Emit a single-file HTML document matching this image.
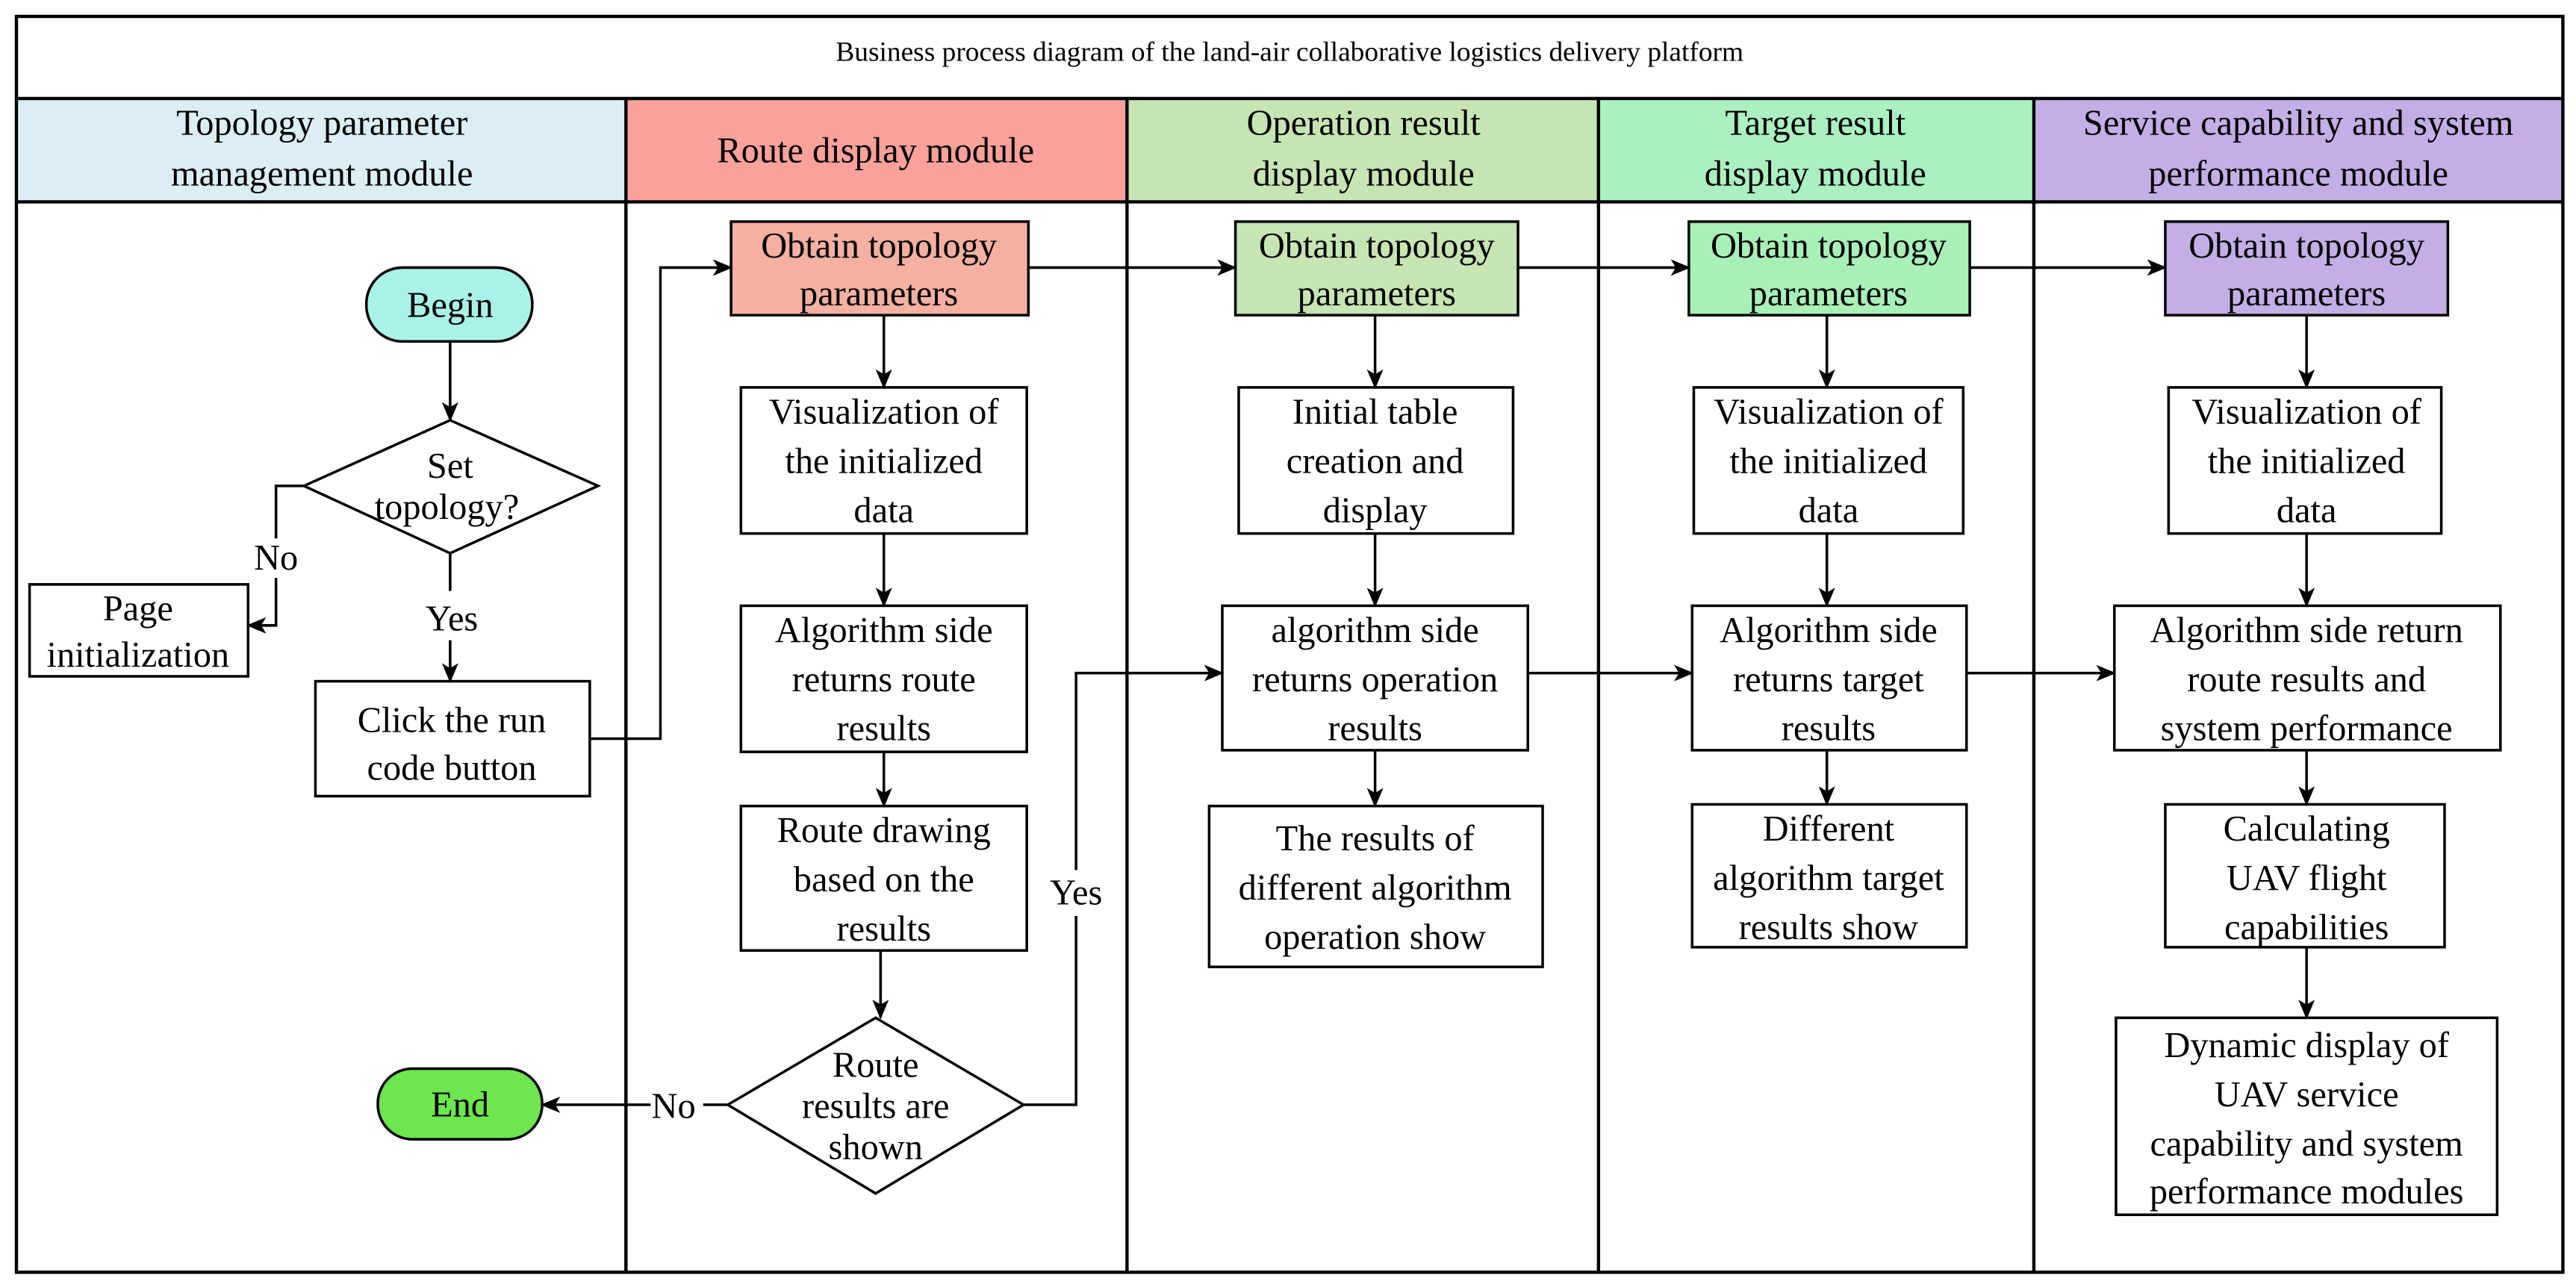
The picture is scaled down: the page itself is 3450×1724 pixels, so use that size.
<!DOCTYPE html>
<html><head><meta charset="utf-8"><style>
html,body{margin:0;padding:0;background:#fff;}
svg{display:block;}
svg text{font-family:"Liberation Serif","Times New Roman",serif !important;fill:#000;text-anchor:middle;}
</style></head><body>
<svg width="3450" height="1724" viewBox="0 0 1568 784" preserveAspectRatio="none" xmlns="http://www.w3.org/2000/svg" font-family="Liberation Serif, serif">
<defs>
<marker id="a" markerWidth="12" markerHeight="10" refX="11" refY="5" orient="auto" markerUnits="userSpaceOnUse">
<path d="M0,0 L12,5 L0,10 L3,5 Z" fill="#000"/></marker>
</defs>
<rect x="10" y="60" width="371" height="63" fill="#dbeef3"/>
<rect x="381" y="60" width="305" height="63" fill="#f9a19a"/>
<rect x="686" y="60" width="287" height="63" fill="#c6e5b3"/>
<rect x="973" y="60" width="265" height="63" fill="#aaf0c0"/>
<rect x="1238" y="60" width="322" height="63" fill="#c3aee6"/>
<g stroke="#000" stroke-width="2" fill="none">
<rect x="10" y="10" width="1550" height="765"/>
<line x1="10" y1="60" x2="1560" y2="60"/>
<line x1="10" y1="123" x2="1560" y2="123"/>
<line x1="381" y1="60" x2="381" y2="775"/>
<line x1="686" y1="60" x2="686" y2="775"/>
<line x1="973" y1="60" x2="973" y2="775"/>
<line x1="1238" y1="60" x2="1238" y2="775"/>
</g>
<text x="785" y="37" font-size="17">Business process diagram of the land-air collaborative logistics delivery platform</text>
<g font-size="22">
<text x="196" y="82">Topology parameter</text><text x="196" y="113">management module</text>
<text x="533" y="99">Route display module</text>
<text x="830" y="82">Operation result</text><text x="830" y="113">display module</text>
<text x="1105" y="82">Target result</text><text x="1105" y="113">display module</text>
<text x="1399" y="82">Service capability and system</text><text x="1399" y="113">performance module</text>
</g>
<g stroke="#000" stroke-width="1.6">
<rect x="223" y="163" width="101" height="45" rx="22" fill="#aaf2e8"/>
<polygon points="274,256 364,296 274,337 185,296" fill="#fff"/>
<rect x="18" y="356" width="133" height="56" fill="#fff"/>
<rect x="192" y="415" width="167" height="70" fill="#fff"/>
<rect x="230" y="651" width="100" height="43" rx="21" fill="#6de64f"/>
<rect x="445" y="135" width="181" height="57" fill="#f4b0a0"/>
<rect x="451" y="236" width="174" height="89" fill="#fff"/>
<rect x="451" y="369" width="174" height="89" fill="#fff"/>
<rect x="451" y="491" width="174" height="88" fill="#fff"/>
<polygon points="533,620 623,673 533,727 443,673" fill="#fff"/>
<rect x="752" y="135" width="172" height="57" fill="#c6e5b3"/>
<rect x="754" y="236" width="167" height="89" fill="#fff"/>
<rect x="744" y="369" width="186" height="88" fill="#fff"/>
<rect x="736" y="491" width="203" height="98" fill="#fff"/>
<rect x="1028" y="135" width="171" height="57" fill="#a8f0b8"/>
<rect x="1031" y="236" width="164" height="89" fill="#fff"/>
<rect x="1030" y="369" width="167" height="88" fill="#fff"/>
<rect x="1030" y="490" width="167" height="87" fill="#fff"/>
<rect x="1318" y="135" width="172" height="57" fill="#c3aee6"/>
<rect x="1320" y="236" width="166" height="89" fill="#fff"/>
<rect x="1287" y="369" width="235" height="88" fill="#fff"/>
<rect x="1318" y="490" width="170" height="87" fill="#fff"/>
<rect x="1288" y="620" width="232" height="120" fill="#fff"/>
</g>
<g stroke="#000" stroke-width="1.6" fill="none" marker-end="url(#a)">
<path d="M274,208 V256"/>
<path d="M274,337 V360 M274,390 V415"/>
<path d="M185,296 H168 V328 M168,352 V381 H151"/>
<path d="M359,450 H402 V163 H445"/>
<path d="M538,192 V236"/><path d="M538,325 V369"/><path d="M538,458 V491"/><path d="M536,579 V620"/>
<path d="M443,673 H428 M396,673 H330"/>
<path d="M623,673 H655 V558 M655,530 V410 H744"/>
<path d="M626,163 H752"/><path d="M924,163 H1028"/><path d="M1199,163 H1318"/>
<path d="M837,192 V236"/><path d="M837,325 V369"/><path d="M837,457 V491"/>
<path d="M930,410 H1030"/><path d="M1197,410 H1287"/>
<path d="M1112,192 V236"/><path d="M1112,325 V369"/><path d="M1112,457 V490"/>
<path d="M1404,192 V236"/><path d="M1404,325 V369"/><path d="M1404,457 V490"/><path d="M1404,577 V620"/>
</g>
<g font-size="22">
<text x="274" y="193">Begin</text>
<text x="274" y="291">Set</text><text x="272" y="316">topology?</text>
<text x="168" y="347">No</text>
<text x="275" y="384">Yes</text>
<text x="84" y="378">Page</text><text x="84" y="406">initialization</text>
<text x="275" y="446">Click the run</text><text x="275" y="475">code button</text>
<text x="280" y="680">End</text>
<text x="410" y="681">No</text>
<text x="655" y="551">Yes</text>
<text x="535" y="157">Obtain topology</text><text x="535" y="186">parameters</text>
<text x="538" y="258">Visualization of</text><text x="538" y="288">the initialized</text><text x="538" y="318">data</text>
<text x="538" y="391">Algorithm side</text><text x="538" y="421">returns route</text><text x="538" y="451">results</text>
<text x="538" y="513">Route drawing</text><text x="538" y="543">based on the</text><text x="538" y="573">results</text>
<text x="533" y="656">Route</text><text x="533" y="681">results are</text><text x="533" y="706">shown</text>
<text x="838" y="157">Obtain topology</text><text x="838" y="186">parameters</text>
<text x="837" y="258">Initial table</text><text x="837" y="288">creation and</text><text x="837" y="318">display</text>
<text x="837" y="391">algorithm side</text><text x="837" y="421">returns operation</text><text x="837" y="451">results</text>
<text x="837" y="518">The results of</text><text x="837" y="548">different algorithm</text><text x="837" y="578">operation show</text>
<text x="1113" y="157">Obtain topology</text><text x="1113" y="186">parameters</text>
<text x="1113" y="258">Visualization of</text><text x="1113" y="288">the initialized</text><text x="1113" y="318">data</text>
<text x="1113" y="391">Algorithm side</text><text x="1113" y="421">returns target</text><text x="1113" y="451">results</text>
<text x="1113" y="512">Different</text><text x="1113" y="542">algorithm target</text><text x="1113" y="572">results show</text>
<text x="1404" y="157">Obtain topology</text><text x="1404" y="186">parameters</text>
<text x="1404" y="258">Visualization of</text><text x="1404" y="288">the initialized</text><text x="1404" y="318">data</text>
<text x="1404" y="391">Algorithm side return</text><text x="1404" y="421">route results and</text><text x="1404" y="451">system performance</text>
<text x="1404" y="512">Calculating</text><text x="1404" y="542">UAV flight</text><text x="1404" y="572">capabilities</text>
<text x="1404" y="644">Dynamic display of</text><text x="1404" y="674">UAV service</text><text x="1404" y="704">capability and system</text><text x="1404" y="733">performance modules</text>
</g>
</svg>
</body></html>
